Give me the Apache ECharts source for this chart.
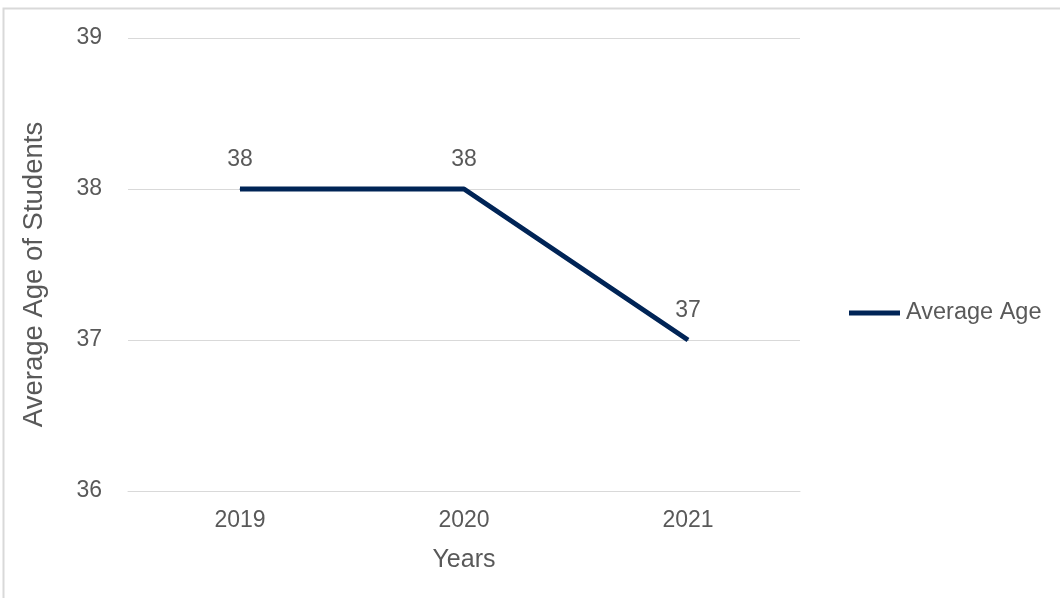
<!DOCTYPE html>
<html>
<head>
<meta charset="utf-8">
<script src="https://cdn.jsdelivr.net/npm/echarts@6/dist/echarts.min.js"></script>
<style>
  html, body { margin: 0; padding: 0; background: #ffffff; }
  #chart { width: 1060px; height: 598px; }
</style>
</head>
<body>
<div id="chart"></div>
<script>
// Average student age by year
const years = ['2019', '2020', '2021'];
const averageAge = [38, 38, 37];
const seriesName = 'Average Age';
const yTicks = { min: 36, max: 39, step: 1 };

const textColor = '#595959';
const gridColor = '#d9d9d9';
const lineColor = '#002456';
const fontFamily = '"Liberation Sans", Arial, sans-serif';

const chart = echarts.init(document.getElementById('chart'), null, { renderer: 'canvas' });

chart.setOption({
  animation: false,
  backgroundColor: '#ffffff',
  textStyle: { fontFamily: fontFamily },
  graphic: [{
    type: 'rect',
    shape: { x: 3.5, y: 8.5, width: 1200, height: 800 },
    style: { fill: 'none', stroke: gridColor, lineWidth: 2 },
    silent: true
  }],
  grid: { left: 128, right: 260, top: 38, bottom: 107 },
  legend: {
    data: [{ name: seriesName, icon: 'rect' }],
    left: 849,
    top: 301,
    padding: 0,
    itemWidth: 51,
    itemHeight: 5,
    itemStyle: { color: lineColor },
    textStyle: { color: textColor, fontSize: 23.5, fontFamily: fontFamily, padding: [0, 0, 0, 1] }
  },
  xAxis: {
    type: 'category',
    data: years,
    boundaryGap: true,
    axisLine: { show: true, lineStyle: { color: gridColor, width: 1 } },
    axisTick: { show: false },
    axisLabel: { color: textColor, fontSize: 23, margin: 18, fontFamily: fontFamily },
    name: 'Years',
    nameLocation: 'middle',
    nameGap: 57,
    nameTextStyle: { color: textColor, fontSize: 25, fontFamily: fontFamily }
  },
  yAxis: {
    type: 'value',
    min: yTicks.min,
    max: yTicks.max,
    interval: yTicks.step,
    axisLine: { show: false },
    axisTick: { show: false },
    splitLine: { lineStyle: { color: gridColor, width: 1 } },
    axisLabel: { color: textColor, fontSize: 23, margin: 26, fontFamily: fontFamily },
    name: 'Average Age of Students',
    nameLocation: 'middle',
    nameGap: 80,
    nameTextStyle: { color: textColor, fontSize: 27.5, fontFamily: fontFamily, padding: [0, 20, 0, 0] }
  },
  series: [{
    name: seriesName,
    type: 'line',
    data: averageAge,
    symbol: 'circle',
    symbolSize: 1,
    showSymbol: true,
    itemStyle: { color: lineColor },
    lineStyle: { color: lineColor, width: 5 },
    label: {
      show: true,
      position: 'top',
      distance: 17,
      color: textColor,
      fontSize: 23,
      fontFamily: fontFamily
    }
  }]
});
</script>
</body>
</html>
